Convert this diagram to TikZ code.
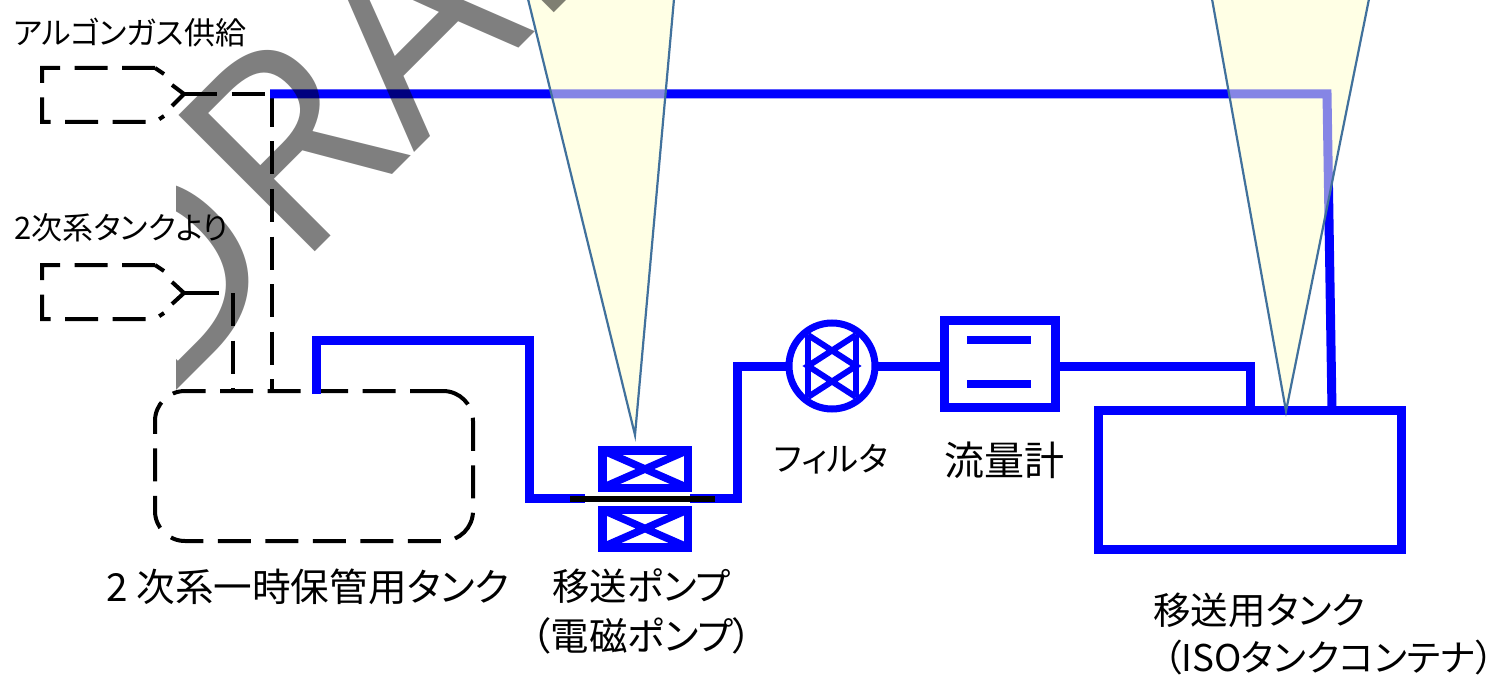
\documentclass[tikz,border=0pt]{standalone}
\usepackage{fontspec}
\setmainfont[RawFeature=+palt]{Noto Sans CJK JP}
\newfontfamily\draftfont{Open Sans}
\usetikzlibrary{positioning}
\definecolor{pipeblue}{RGB}{0,0,255}
\definecolor{wedgeedge}{RGB}{65,113,156}
\definecolor{wedgefill}{RGB}{255,255,207}
\tikzset{
    pipe/.style={draw=pipeblue,line width=9pt,line join=miter},
    thinpipe/.style={draw=pipeblue,line width=6pt},
    gasline/.style={draw=black,line width=4pt,dash pattern=on 33pt off 14.5pt},
    forkline/.style={draw=black,line width=4pt},
    coilbox/.style={rectangle,draw=pipeblue,line width=8.5pt,minimum width=85.5pt,minimum height=37.5pt,inner sep=0pt,outer sep=0pt},
    wedge/.style={draw=wedgeedge,line width=2.2pt,fill=wedgefill,fill opacity=0.52,draw opacity=1},
    lbl/.style={inner sep=0pt,font=\fontsize{#1}{#1}\selectfont},
    lbl/.default=38,
    smalllbl/.style={inner sep=0pt,anchor=west,font=\fontsize{31}{31}\selectfont}
}
\begin{document}
\begin{tikzpicture}[x=1pt,y=-1pt]
    \useasboundingbox (0,0) rectangle (1493,679);
    \fill[white] (0,0) rectangle (1493,679);

    % gas side
    \node[smalllbl] (argonlbl) at (13,33) {アルゴンガス供給};
    \node[smalllbl] (secondlbl) at (14,228) {2次系タンクより};
    \draw[gasline] (155,68) -- (42,68) -- (42,122) -- (155,122) -- (164,116);
    \draw[forkline] (155,68) -- (164,74);
    \draw[gasline] (155,265) -- (42,265) -- (42,319) -- (155,319) -- (164,313);
    \draw[forkline] (155,265) -- (164,271);
    \coordinate (forkA) at (184,94);
    \coordinate (forkB) at (184,293);
    \draw[forkline] (172,85) -- (forkA) -- (172,106);
    \draw[forkline] (172,282) -- (forkB) -- (172,304);

    \node[rectangle,rounded corners=30pt,gasline,minimum width=318pt,minimum height=150pt,inner sep=0pt,outer sep=0pt] (tempTank) at (314,466) {};
    \coordinate (joinA) at (272,94);
    \coordinate (joinB) at (233,293);
    \draw[gasline] (forkA) -- (joinA);
    \draw[forkline] (forkB) -- (219,293);
    \draw[gasline] (joinA) -- (joinA |- tempTank.north);
    \draw[gasline] (joinB) -- (joinB |- tempTank.north);

    % transfer line
    \node[coilbox] (coilA) at (645,469) {};
    \node[coilbox] (coilB) at (645,528.5) {};
    \foreach \n in {coilA,coilB} {
        \draw[pipeblue,line width=7.5pt] (\n.north west) -- (\n.south east) (\n.north east) -- (\n.south west);
    }
    \node[circle,draw=pipeblue,line width=7pt,minimum size=86pt,inner sep=0pt,outer sep=0pt] (filter) at (832,366) {};
    \node[rectangle,draw=pipeblue,line width=9pt,minimum width=111pt,minimum height=87pt,inner sep=0pt,outer sep=0pt] (meter) at (1000,364) {};
    \node[rectangle,draw=pipeblue,line width=9pt,minimum width=303pt,minimum height=139pt,inner sep=0pt,outer sep=0pt] (isoTank) at (1250,480) {};
    \coordinate (pumpIn) at (585,498);
    \coordinate (pumpOut) at (690,498);
    \coordinate (outletA) at (316,394);
    \coordinate (outletB) at (1250,366);
    \coordinate (dropB) at (1332,94);
    \draw[pipe] (outletA) -- (316,340) -- (529,340) -- (529,498) -- (pumpIn);
    \draw[pipe] (pumpOut) -- (737,498) -- (737,366) -- (filter.west);
    \draw[pipe] (filter.east) -- (meter.west |- filter.east);
    \draw[pipe] (meter.east |- filter.east) -- (outletB) -- (outletB |- isoTank.north);
    \draw[thinpipe] (808,335) -- (808,397) (856,335) -- (856,397);
    \draw[thinpipe] (808,335) -- (856,366) -- (808,397) (856,335) -- (808,366) -- (856,397);
    \draw[pipeblue,line width=8pt] (967,340) -- (1031,340) (967,384) -- (1031,384);
    \coordinate (gasStart) at (270,94);
    \draw[pipe] (gasStart) -- (1327,94) -- (dropB |- isoTank.north);
    \draw[black,line width=5.5pt] (570,499) -- (715,499);

    % cones
    \draw[wedge] (528,-1) -- (635,435) -- (674,-1);
    \draw[wedge] (1212,-1) -- (1286,411) -- (1369,-1);

    % labels
    \node[lbl=38.6] (tempLbl) at (308,587) {2 次系一時保管用タンク};
    \node[lbl=37.5] (pumpLbl) at (641,586) {移送ポンプ};
    \node[lbl=38.4] (pumpLblB) at (642,636) {（電磁ポンプ）};
    \node[lbl=33.5] (filterLbl) at (831,459) {フィルタ};
    \node[lbl=40] (meterLbl) at (1004,460) {流量計};
    \node[lbl=37.5,anchor=west] (isoLbl) at (1153,610) {移送用タンク};
    \node[lbl=36.8,anchor=west] (isoLblB) at (1163,658) {（ISOタンクコンテナ）};

    % stamp
    \begin{scope}
        \clip (176,0) rectangle (1493,679);
        \node[anchor=base west,rotate=45,inner sep=0pt,text=black,text opacity=0.5,font=\draftfont\fontsize{270}{270}\selectfont] (stamp) at (157,410) {DRAFT};
    \end{scope}
\end{tikzpicture}
\end{document}
